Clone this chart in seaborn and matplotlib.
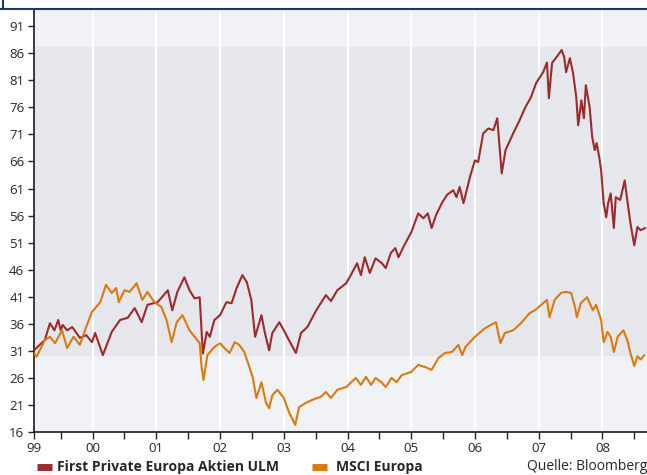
import pandas as pd
import seaborn as sns
import matplotlib.pyplot as plt
from matplotlib.lines import Line2D


# First Private Europa Aktien ULM (decimal year, value)
fp_x = [1999.08, 1999.25, 1999.33, 1999.40, 1999.46, 1999.50, 1999.53, 1999.60, 1999.68, 1999.80,
        1999.90, 1999.99, 2000.04, 2000.16, 2000.30, 2000.43, 2000.55, 2000.66, 2000.77, 2000.86,
        2001.02, 2001.18, 2001.25, 2001.33, 2001.44, 2001.52, 2001.60, 2001.68, 2001.73, 2001.79,
        2001.84, 2001.91, 2002.00, 2002.10, 2002.18, 2002.26, 2002.35, 2002.42, 2002.49, 2002.55,
        2002.65, 2002.70, 2002.77, 2002.82, 2002.93, 2003.00, 2003.08, 2003.19, 2003.27, 2003.37,
        2003.51, 2003.66, 2003.74, 2003.84, 2003.98, 2004.07, 2004.15, 2004.21, 2004.27, 2004.35,
        2004.44, 2004.54, 2004.60, 2004.68, 2004.75, 2004.80, 2004.89, 2005.00, 2005.11, 2005.19,
        2005.26, 2005.32, 2005.39, 2005.48, 2005.56, 2005.66, 2005.71, 2005.76, 2005.82, 2005.93,
        2006.00, 2006.05, 2006.13, 2006.21, 2006.29, 2006.35, 2006.42, 2006.48, 2006.60, 2006.68,
        2006.79, 2006.88, 2006.96, 2007.07, 2007.13, 2007.16, 2007.21, 2007.30, 2007.36, 2007.40,
        2007.43, 2007.49, 2007.54, 2007.59, 2007.62, 2007.67, 2007.71, 2007.74, 2007.80, 2007.84,
        2007.88, 2007.91, 2007.95, 2007.98, 2008.02, 2008.06, 2008.09, 2008.13, 2008.18, 2008.21,
        2008.28, 2008.35, 2008.39, 2008.44, 2008.50, 2008.55, 2008.60, 2008.67]
fp_y = [31.1, 33.0, 36.1, 34.8, 36.7, 34.8, 35.8, 34.8, 35.4, 33.4,
        33.9, 32.6, 34.3, 30.2, 34.5, 36.7, 37.1, 38.9, 36.3, 39.5,
        40.0, 42.2, 38.5, 41.9, 44.6, 42.2, 40.7, 40.9, 30.5, 34.5,
        33.6, 36.7, 37.6, 40.0, 39.8, 42.6, 45.0, 43.7, 40.4, 33.6,
        37.6, 34.5, 31.1, 34.3, 36.3, 34.8, 33.0, 30.6, 34.3, 35.4,
        38.5, 41.3, 40.2, 42.2, 43.5, 45.4, 47.2, 45.0, 48.3, 45.4,
        48.1, 47.2, 46.3, 49.1, 50.0, 48.3, 50.5, 52.9, 56.4, 55.5,
        56.4, 53.7, 56.1, 58.3, 59.8, 60.7, 59.4, 61.3, 58.3, 63.5,
        66.2, 65.9, 71.2, 72.1, 71.8, 74.0, 63.8, 68.1, 71.2, 73.1,
        76.0, 77.9, 80.5, 82.5, 84.3, 77.7, 84.2, 85.6, 86.6, 85.3,
        82.5, 85.1, 82.3, 77.9, 72.7, 77.3, 74.0, 80.1, 76.0, 70.5,
        68.1, 69.4, 66.8, 64.4, 58.3, 55.7, 58.3, 60.1, 53.7, 59.4,
        58.9, 62.5, 58.9, 54.6, 50.5, 53.9, 53.3, 53.7]

# MSCI Europa (decimal year, value)
msci_x = [1999.08, 1999.12, 1999.25, 1999.33, 1999.41, 1999.52, 1999.60, 1999.70, 1999.80, 1999.88,
          1999.99, 2000.12, 2000.21, 2000.30, 2000.37, 2000.41, 2000.50, 2000.58, 2000.69, 2000.78,
          2000.86, 2000.97, 2001.08, 2001.16, 2001.24, 2001.32, 2001.41, 2001.52, 2001.60, 2001.68,
          2001.71, 2001.74, 2001.80, 2001.91, 2002.00, 2002.07, 2002.15, 2002.23, 2002.30, 2002.38,
          2002.46, 2002.51, 2002.57, 2002.65, 2002.72, 2002.77, 2002.82, 2002.90, 2003.00, 2003.08,
          2003.18, 2003.24, 2003.35, 2003.44, 2003.58, 2003.66, 2003.74, 2003.84, 2003.98, 2004.13,
          2004.21, 2004.29, 2004.37, 2004.44, 2004.54, 2004.60, 2004.69, 2004.77, 2004.85, 2005.00,
          2005.11, 2005.22, 2005.32, 2005.43, 2005.53, 2005.64, 2005.74, 2005.80, 2005.85, 2006.00,
          2006.16, 2006.25, 2006.33, 2006.40, 2006.47, 2006.60, 2006.72, 2006.86, 2006.94, 2007.07,
          2007.13, 2007.17, 2007.25, 2007.35, 2007.43, 2007.51, 2007.57, 2007.60, 2007.66, 2007.76,
          2007.85, 2007.90, 2007.98, 2008.02, 2008.08, 2008.13, 2008.18, 2008.24, 2008.33, 2008.39,
          2008.44, 2008.50, 2008.55, 2008.60, 2008.66]
msci_y = [30.6, 29.9, 33.0, 33.6, 32.4, 34.8, 31.5, 33.6, 32.1, 34.8,
          38.2, 40.0, 43.2, 41.7, 42.6, 40.0, 42.2, 41.9, 43.5, 40.4,
          41.9, 40.0, 39.1, 36.7, 32.6, 36.3, 37.6, 34.8, 33.6, 32.4,
          28.0, 25.6, 30.2, 31.7, 32.4, 31.5, 30.6, 32.6, 32.1, 30.8,
          28.0, 26.2, 22.3, 25.2, 21.4, 20.4, 22.8, 23.8, 22.3, 19.7,
          17.3, 20.6, 21.4, 21.9, 22.5, 23.4, 22.3, 23.8, 24.3, 26.0,
          24.7, 26.2, 24.7, 26.0, 25.1, 24.3, 26.0, 25.2, 26.5, 27.1,
          28.4, 28.0, 27.5, 29.7, 30.6, 30.8, 32.1, 30.2, 31.7, 33.6,
          35.2, 35.8, 36.3, 32.4, 34.3, 34.8, 36.1, 38.0, 38.5, 39.8,
          40.4, 37.2, 40.4, 41.7, 41.9, 41.7, 39.1, 37.2, 39.8, 40.9,
          38.5, 39.5, 36.7, 32.6, 34.5, 33.6, 30.8, 33.6, 34.8, 33.0,
          30.6, 28.2, 30.0, 29.4, 30.2]

years = [2000, 2001, 2002, 2003, 2004, 2005, 2006, 2007, 2008]
year_labels = ['00', '01', '02', '03', '04', '05', '06', '07', '08']
y_ticks = list(range(16, 92, 5))

red = '#9c2b2a'
orange = '#db7a10'

df = pd.concat([
    pd.DataFrame({'year': fp_x, 'value': fp_y, 'fund': 'First Private Europa Aktien ULM'}),
    pd.DataFrame({'year': msci_x, 'value': msci_y, 'fund': 'MSCI Europa'}),
])

sns.set_style('white')
plt.rcParams['font.family'] = ['Open Sans', 'DejaVu Sans']

fig = plt.figure(figsize=(6.47, 4.75), dpi=100)
ax = fig.add_axes([34 / 647, 1 - 432 / 475, 1 - 34 / 647, (432 - 10) / 475])
ax.set_facecolor('#f1f2f6')
ax.axhspan(30.3, 87.2, color='#e5e7ec', zorder=0)
for yr in years:
    ax.axvline(yr, color='white', lw=1.5, zorder=1)

sns.lineplot(data=df, x='year', y='value', hue='fund', palette=[red, orange],
             estimator=None, legend=False, lw=1.5, ax=ax, zorder=3)

ax.set_xlim(1999.08, 2008.70)
ax.set_ylim(16, 94)
ax.set_yticks(y_ticks)
ax.set_yticklabels([str(v) for v in y_ticks], fontsize=9.5)
ax.set_xticks([1999.08] + years)
ax.set_xticklabels(['99'] + year_labels, fontsize=9.5)
ax.set_xticks([y + 0.5 for y in range(1999, 2009)], minor=True)
ax.tick_params(axis='x', which='both', direction='out', length=5, width=1, pad=2, bottom=True)
ax.tick_params(axis='y', direction='out', length=4, width=1, pad=3, left=True)
ax.set_xlabel('')
ax.set_ylabel('')
for side in ['top', 'right']:
    ax.spines[side].set_visible(False)
for side in ['left', 'bottom']:
    ax.spines[side].set_color('#1a1a1a')
    ax.spines[side].set_linewidth(1.2)

# top frame line
fig.add_artist(Line2D([0, 1], [1 - 9 / 475, 1 - 9 / 475], color='#1f3a5f', lw=1.5))
fig.add_artist(Line2D([3 / 647, 3 / 647], [1, 1 - 9 / 475], color='#1f3a5f', lw=1.5))

# legend row
ly = 1 - 467 / 475
fig.add_artist(Line2D([37 / 647, 52 / 647], [ly, ly], color=red, lw=5, solid_capstyle='butt'))
fig.text(57 / 647, ly, 'First Private Europa Aktien ULM', fontsize=10, fontweight='bold', va='center')
fig.add_artist(Line2D([312 / 647, 327 / 647], [ly, ly], color=orange, lw=5, solid_capstyle='butt'))
fig.text(336 / 647, ly, 'MSCI Europa', fontsize=10, fontweight='bold', va='center')
fig.text(1.0, ly, 'Quelle: Bloomberg', fontsize=10, va='center', ha='right')

fig.savefig('out.png', dpi=100)
